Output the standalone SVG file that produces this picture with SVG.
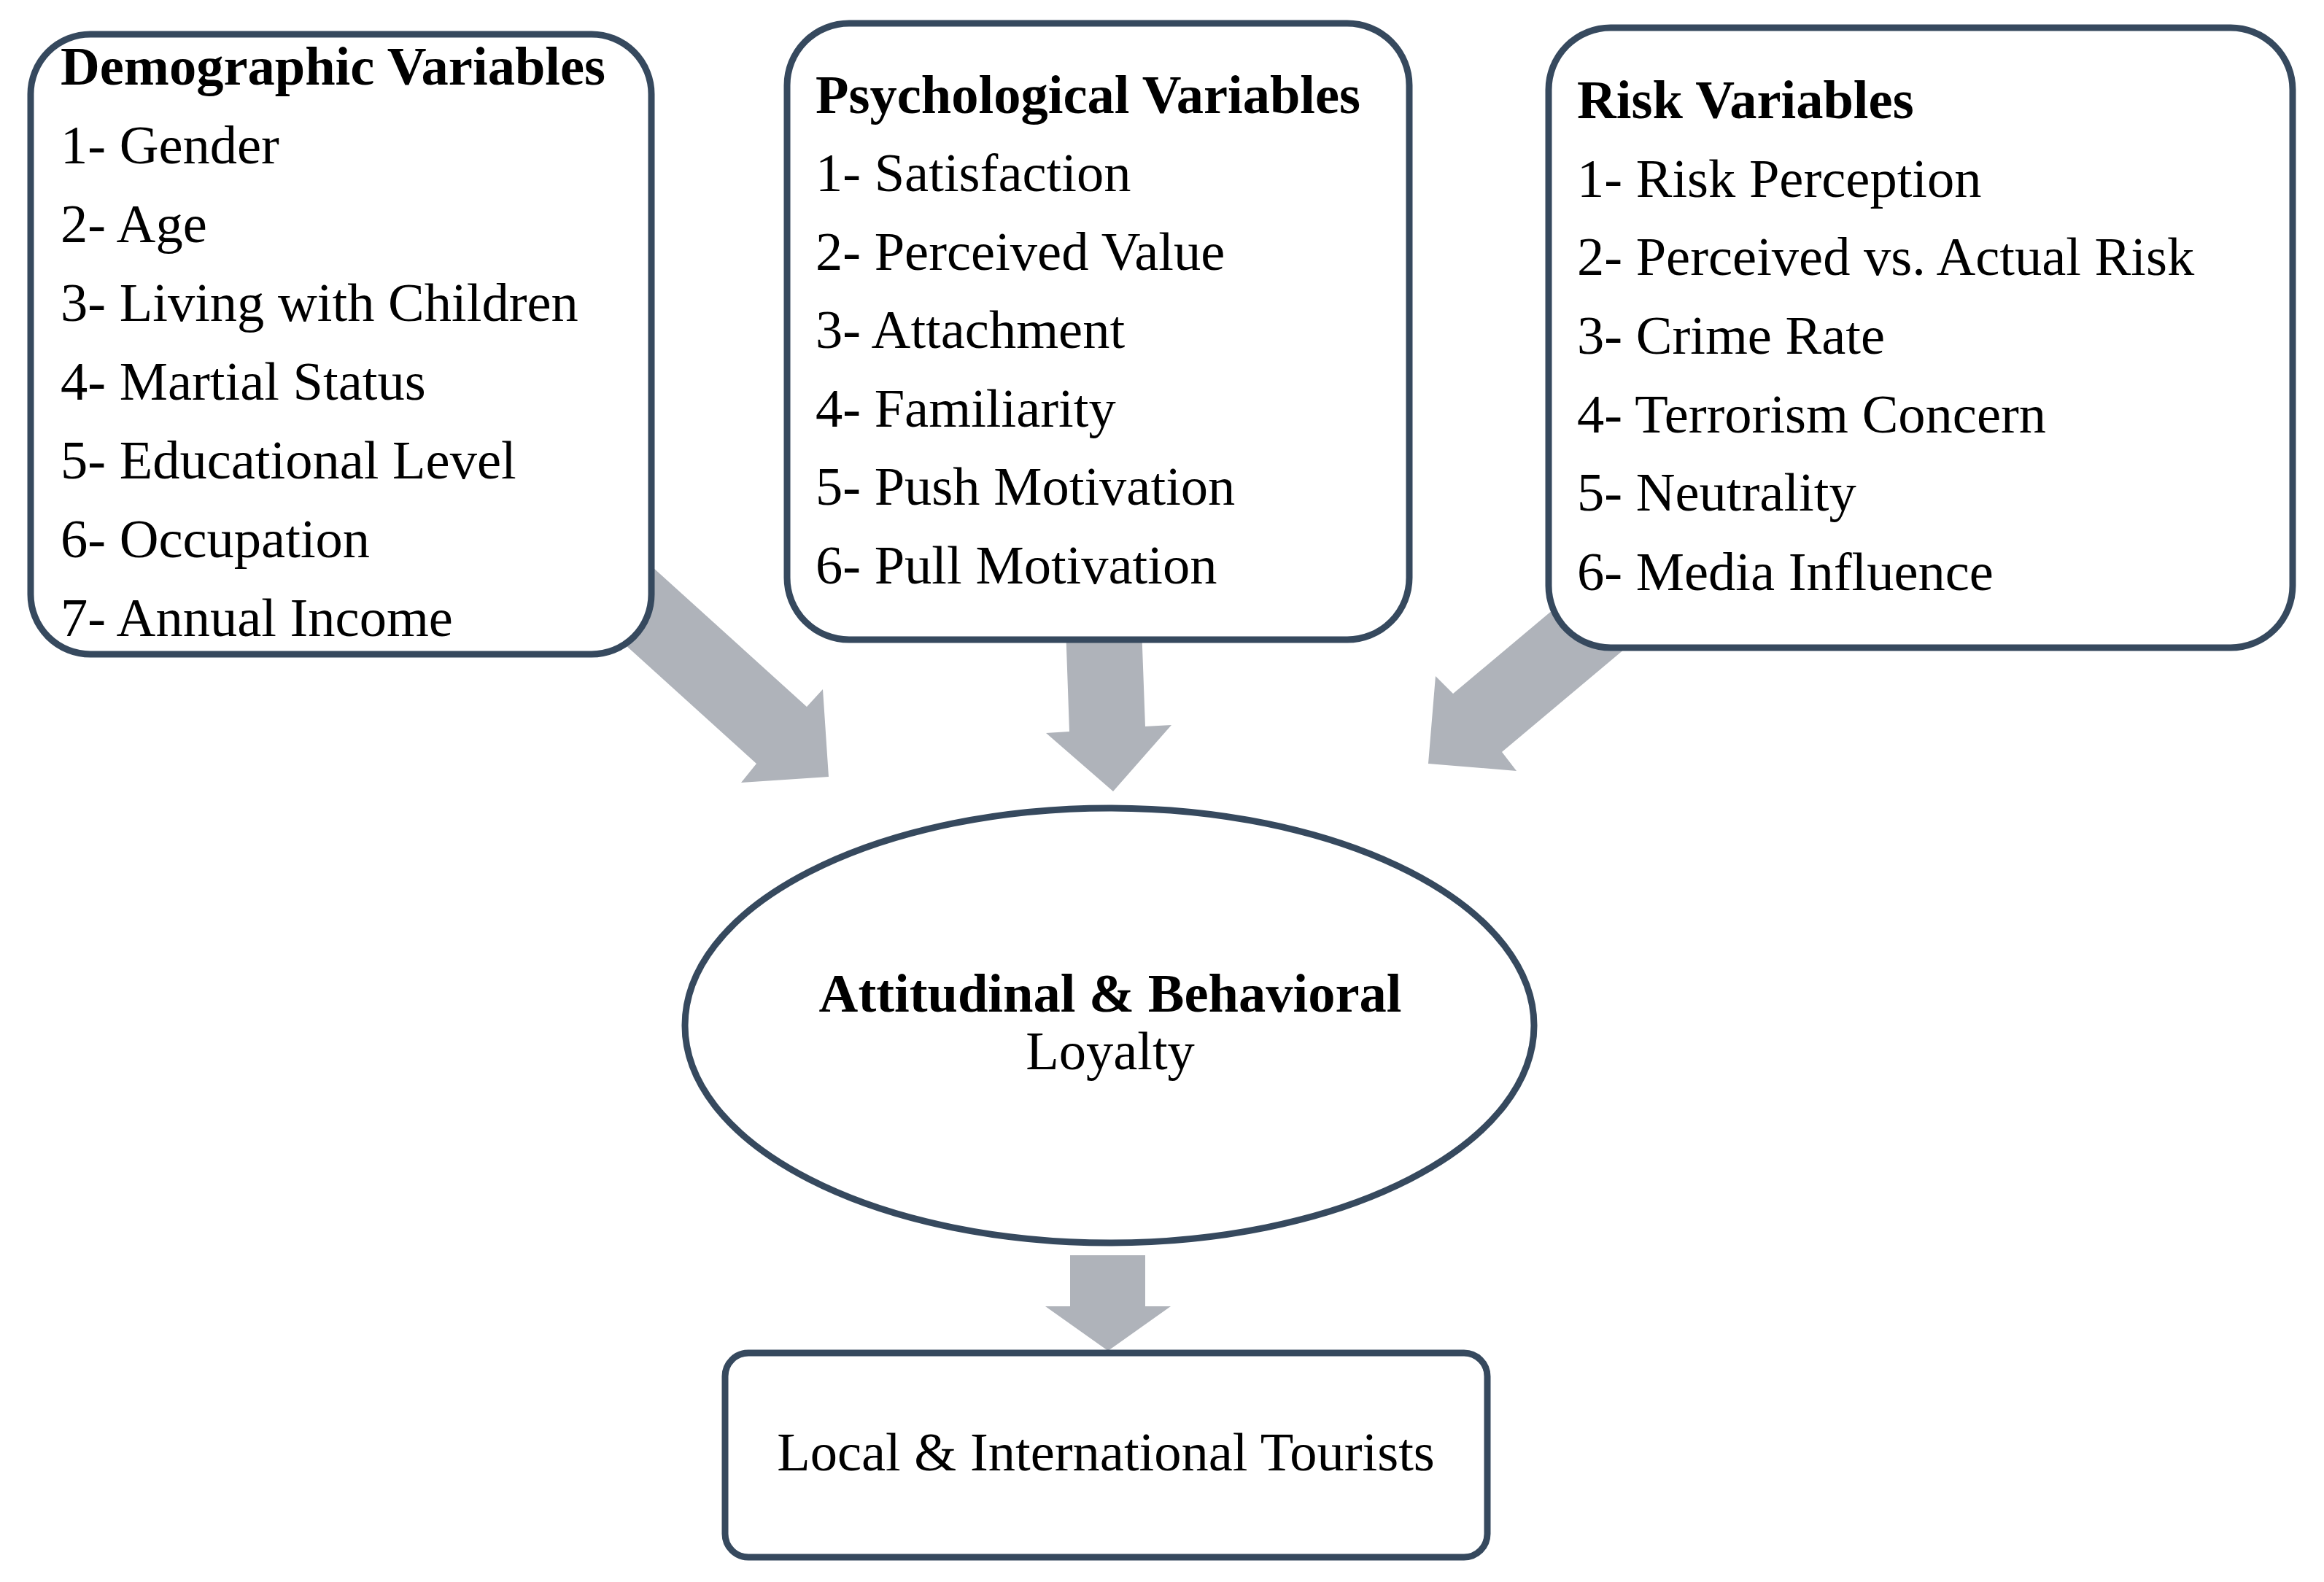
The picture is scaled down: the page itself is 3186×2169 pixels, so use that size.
<svg xmlns="http://www.w3.org/2000/svg" width="3186" height="2169" viewBox="0 0 3186 2169">
<style>
.box{fill:#ffffff;stroke:#36495e;stroke-width:9}
.arr{fill:#afb3ba;stroke:none}
.t{font-family:"Liberation Serif","Times New Roman",serif;font-size:74.5px;fill:#000}
.b{font-weight:bold}
.c{text-anchor:middle}
</style>
<rect width="3186" height="2169" fill="#ffffff"/>
<g id="connectors">
<polygon class="arr" points="741,779 810,701 1106,969 1128,945 1136,1065 1016,1073 1037,1047"/>
<polygon class="arr" points="1461,860 1466,1003 1434,1005 1526,1085 1606,994 1570,996 1565,860"/>
<polygon class="arr" points="2260,726 2327,806 2059,1031 2079,1057 1958,1047 1968,927 1992,951"/>
<polygon class="arr" points="1467,1721 1467,1791 1433,1791 1519,1852 1605,1791 1570,1791 1570,1721"/>
</g>
<g id="demographic">
<rect class="box" x="42" y="47" width="851" height="850" rx="82" ry="82"/>
<text class="t b" x="83" y="116">Demographic Variables</text>
<text class="t" x="83" y="224">1- Gender</text>
<text class="t" x="83" y="332">2- Age</text>
<text class="t" x="83" y="440">3- Living with Children</text>
<text class="t" x="83" y="548">4- Martial Status</text>
<text class="t" x="83" y="656">5- Educational Level</text>
<text class="t" x="83" y="764">6- Occupation</text>
<text class="t" x="83" y="872">7- Annual Income</text>
</g>
<g id="psychological">
<rect class="box" x="1079" y="32" width="853" height="845" rx="85" ry="85"/>
<text class="t b" x="1118" y="155">Psychological Variables</text>
<text class="t" x="1118" y="262">1- Satisfaction</text>
<text class="t" x="1118" y="370">2- Perceived Value</text>
<text class="t" x="1118" y="477">3- Attachment</text>
<text class="t" x="1118" y="585">4- Familiarity</text>
<text class="t" x="1118" y="692">5- Push Motivation</text>
<text class="t" x="1118" y="800">6- Pull Motivation</text>
</g>
<g id="risk">
<rect class="box" x="2123" y="38" width="1020" height="850" rx="85" ry="85"/>
<text class="t b" x="2162" y="162">Risk Variables</text>
<text class="t" x="2162" y="270">1- Risk Perception</text>
<text class="t" x="2162" y="377">2- Perceived vs. Actual Risk</text>
<text class="t" x="2162" y="485">3- Crime Rate</text>
<text class="t" x="2162" y="593">4- Terrorism Concern</text>
<text class="t" x="2162" y="700">5- Neutrality</text>
<text class="t" x="2162" y="809">6- Media Influence</text>
</g>
<g id="loyalty">
<ellipse class="box" cx="1521" cy="1406" rx="582" ry="298"/>
<text class="t b c" x="1522" y="1387">Attitudinal &amp; Behavioral</text>
<text class="t c" x="1522" y="1466">Loyalty</text>
</g>
<g id="tourists">
<rect class="box" x="994" y="1855" width="1045" height="280" rx="32" ry="32"/>
<text class="t c" x="1516" y="2016">Local &amp; International Tourists</text>
</g>
</svg>
